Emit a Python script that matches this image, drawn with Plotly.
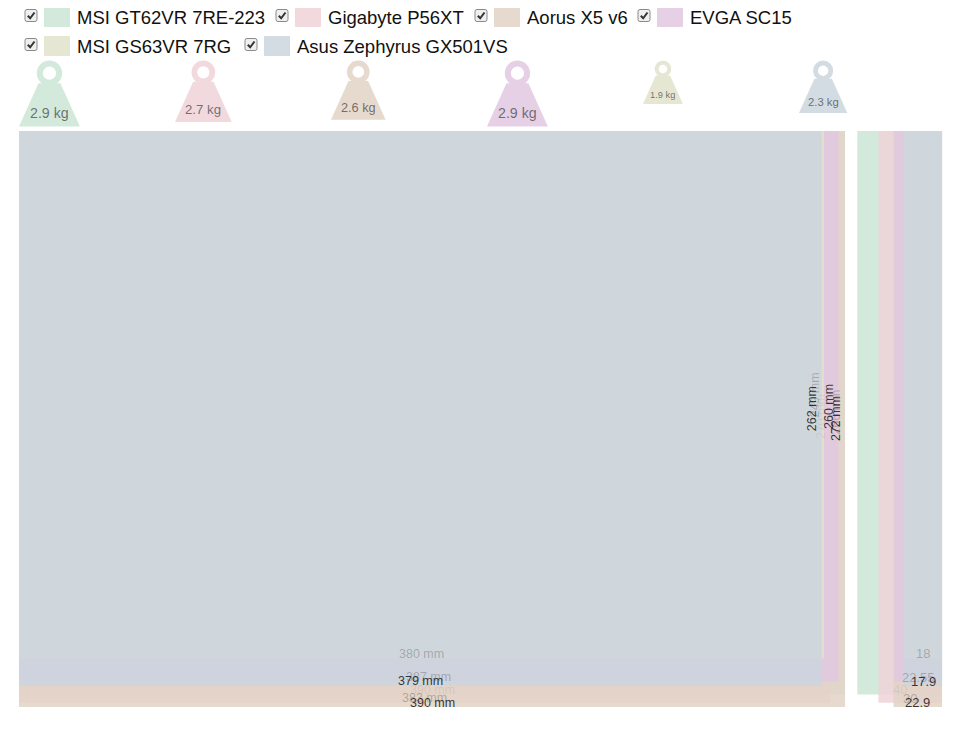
import plotly.graph_objects as go

names = ["MSI GT62VR 7RE-223", "Gigabyte P56XT", "Aorus X5 v6",
         "EVGA SC15", "MSI GS63VR 7RG", "Asus Zephyrus GX501VS"]
widths = [390, 383, 390, 387, 380, 379]          # mm
depths = [266, 270, 272, 260, 249, 262]          # mm
thickness = [40, 30, 22.9, 22.55, 18, 17.9]      # mm
weights = [2.9, 2.7, 2.6, 2.9, 1.9, 2.3]         # kg
colors = ["#d3e9dc", "#f1d9de", "#e6d9ce", "#e6d0e6", "#e6e7d3", "#d3dbe3"]

# page layout (pixels, measured on the page; the body has an 8px margin)
PAGE_W, PAGE_H = 958, 742
BODY = 8
W, H = PAGE_W - 2 * BODY, PAGE_H - 2 * BODY
K = 2.118            # px per mm
X0, Y0 = 19, 131     # top left corner of the front view on the page
GAP = 5.8            # mm between front view and side view
ALPHA = 0.85
FADE = 0.3           # share of a label that shows through one rectangle
FONT = "Liberation Sans, Arial, sans-serif"
legend_slots = [(25, 17), (276, 17), (475, 17), (638, 17), (25, 46), (245, 46)]
ICON_STEP, ICON_TOP = 156, 61


def mx(px):
    return (px - X0) / K


def my(py):
    return (py - Y0) / K


def rgba(hex_col, a):
    # colour that looks like hex_col on white when drawn at opacity a
    rgb = [int(hex_col[i:i + 2], 16) for i in (1, 3, 5)]
    r, g, b = [round(max(0, (c - (1 - a) * 255) / a)) for c in rgb]
    return f"rgba({r},{g},{b},{a})"


def inside(box, x, y):
    return box[0] <= x <= box[2] and box[1] <= y <= box[3]


def label_color(boxes, i, x, y):
    n = sum(inside(b, x, y) for b in boxes[i + 1:])
    return f"rgba(30,30,30,{0.9 * FADE ** n:.3f})"


side_right = max(widths) + GAP + max(thickness)
front = [(0, 0, w, d) for w, d in zip(widths, depths)]
side = [(side_right - t, 0, side_right, d) for t, d in zip(thickness, depths)]

fig = go.Figure()
fig.add_trace(go.Scatter(x=[], y=[], showlegend=False))

shapes = []
annotations = []

for i in range(len(names)):
    for box in (front[i], side[i]):
        shapes.append(dict(type="rect", xref="x", yref="y",
                           x0=box[0], y0=box[1], x1=box[2], y1=box[3],
                           fillcolor=rgba(colors[i], ALPHA), line_width=0,
                           layer="below"))

for i in range(len(names)):
    w, d, t = widths[i], depths[i], thickness[i]
    annotations.append(dict(x=w / 2, y=d, text=f"{w} mm", yshift=4.5,
                            font=dict(size=12.5, color=label_color(front, i, w / 2, d - 4.5 / K))))
    annotations.append(dict(x=w, y=d / 2, text=f"{d} mm", textangle=-90,
                            xanchor="right",
                            font=dict(size=12.5, color=label_color(front, i, w - 3 / K, d / 2))))
    sx = side_right - t / 2
    annotations.append(dict(x=sx, y=d, text=f"{t:g}", yshift=4.5,
                            font=dict(size=13, color=label_color(side, i, sx, d - 4.5 / K))))

# weight icons, size follows the weight
for i, kg in enumerate(weights):
    s = 21 * kg
    left = X0 + ICON_STEP * i
    cx = left + s / 2
    r = 0.158 * s
    shapes.append(dict(type="circle", xref="x", yref="y",
                       x0=mx(cx - r), x1=mx(cx + r),
                       y0=my(ICON_TOP + 0.2 * s - r), y1=my(ICON_TOP + 0.2 * s + r),
                       line=dict(color=colors[i], width=0.1 * s)))
    top, bot = ICON_TOP + 0.365 * s, ICON_TOP + 1.075 * s
    path = (f"M {mx(left + 0.32 * s)} {my(top)} L {mx(left + 0.68 * s)} {my(top)} "
            f"L {mx(left + s)} {my(bot)} L {mx(left)} {my(bot)} Z")
    shapes.append(dict(type="path", xref="x", yref="y", path=path,
                       fillcolor=colors[i], line_width=0))
    annotations.append(dict(x=mx(cx), y=my(ICON_TOP + 0.85 * s), text=f"{kg} kg",
                            font=dict(size=4.9 * kg, color="rgba(60,60,60,0.7)")))

# legend with check boxes
for i, (lx, ly) in enumerate(legend_slots):
    b0, b1 = ly - 7.5, ly + 4.5
    box = (f"M {mx(lx + 2)} {my(b0)} L {mx(lx + 10)} {my(b0)} Q {mx(lx + 12)} {my(b0)} {mx(lx + 12)} {my(b0 + 2)} "
           f"L {mx(lx + 12)} {my(b1 - 2)} Q {mx(lx + 12)} {my(b1)} {mx(lx + 10)} {my(b1)} "
           f"L {mx(lx + 2)} {my(b1)} Q {mx(lx)} {my(b1)} {mx(lx)} {my(b1 - 2)} "
           f"L {mx(lx)} {my(b0 + 2)} Q {mx(lx)} {my(b0)} {mx(lx + 2)} {my(b0)} Z")
    shapes.append(dict(type="path", xref="x", yref="y", path=box,
                       fillcolor="#efefef", line=dict(color="#8a8a8a", width=1)))
    tick = (f"M {mx(lx + 2.8)} {my(b0 + 6.2)} L {mx(lx + 5.2)} {my(b0 + 8.8)} "
            f"L {mx(lx + 9.5)} {my(b0 + 3)}")
    shapes.append(dict(type="path", xref="x", yref="y", path=tick,
                       line=dict(color="#333333", width=2)))
    shapes.append(dict(type="rect", xref="x", yref="y",
                       x0=mx(lx + 19), x1=mx(lx + 45), y0=my(ly - 10), y1=my(ly + 10),
                       fillcolor=colors[i], line_width=0))
    annotations.append(dict(x=mx(lx + 50), y=my(ly), text=names[i], xanchor="left",
                            font=dict(size=18.5, color="#111111")))

for a in annotations:
    a.update(xref="x", yref="y", showarrow=False)
    a.setdefault("yanchor", "middle")

fig.update_layout(
    width=W, height=H,
    margin=dict(l=0, r=0, t=0, b=0),
    paper_bgcolor="white", plot_bgcolor="white",
    font=dict(family=FONT),
    shapes=shapes, annotations=annotations,
    showlegend=False,
    xaxis=dict(range=[mx(BODY), mx(BODY + W)], visible=False, fixedrange=True),
    yaxis=dict(range=[my(BODY + H), my(BODY)], visible=False, fixedrange=True),
)

fig.write_html("out.html")
